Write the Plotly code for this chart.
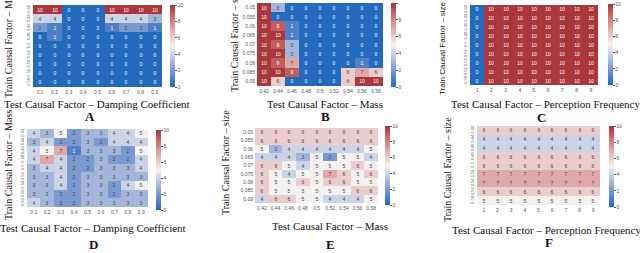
import plotly.graph_objects as go

damping = ["0.1", "0.2", "0.3", "0.4", "0.5", "0.6", "0.7", "0.8", "0.9"]
mass = ["0.42", "0.44", "0.46", "0.48", "0.5", "0.52", "0.54", "0.56", "0.58"]
size = ["0.05", "0.055", "0.06", "0.065", "0.07", "0.075", "0.08", "0.085", "0.09"]
freq = ["1", "2", "3", "4", "5", "6", "7", "8", "9"]

A_vals = [
    [10, 10, 0, 0, 0, 10, 10, 10, 10],
    [4, 4, 0, 0, 0, 4, 4, 4, 3],
    [2, 1, 0, 0, 0, 1, 2, 2, 1],
    [0, 1, 0, 0, 0, 0, 0, 0, 0],
    [0, 0, 0, 0, 0, 0, 0, 0, 0],
    [0, 0, 0, 0, 0, 0, 0, 0, 0],
    [0, 0, 0, 0, 0, 0, 0, 0, 0],
    [0, 0, 0, 0, 0, 0, 0, 0, 0],
    [0, 0, 0, 0, 0, 0, 0, 0, 0],
]
B_vals = [
    [10, 3, 0, 0, 0, 0, 0, 0, 0],
    [10, 0, 0, 0, 0, 0, 0, 0, 0],
    [10, 9, 1, 0, 0, 0, 0, 0, 0],
    [10, 10, 1, 0, 0, 0, 0, 0, 0],
    [10, 9, 3, 0, 0, 0, 0, 0, 0],
    [10, 10, 3, 0, 0, 0, 0, 0, 0],
    [10, 9, 7, 0, 0, 0, 0, 1, 0],
    [10, 10, 9, 0, 0, 0, 6, 7, 6],
    [10, 6, 0, 0, 0, 0, 6, 10, 10],
]
C_vals = [
    [0, 10, 10, 10, 10, 10, 10, 10, 10],
    [0, 10, 10, 10, 10, 10, 10, 10, 10],
    [0, 10, 10, 10, 10, 10, 10, 10, 10],
    [0, 10, 10, 10, 10, 10, 10, 10, 10],
    [0, 10, 10, 10, 10, 10, 10, 10, 10],
    [0, 10, 10, 10, 10, 10, 10, 10, 10],
    [0, 10, 10, 10, 10, 10, 10, 10, 10],
    [0, 10, 10, 10, 10, 10, 10, 10, 10],
    [0, 10, 10, 10, 10, 10, 10, 10, 10],
]
D_vals = [
    [4, 3, 5, 2, 3, 3, 4, 4, 5],
    [3, 4, 2, 2, 3, 2, 4, 4, 4],
    [4, 5, 7, 1, 3, 3, 3, 2, 5],
    [4, 7, 4, 2, 2, 3, 2, 2, 4],
    [3, 4, 4, 2, 2, 3, 3, 3, 4],
    [3, 3, 4, 2, 3, 3, 3, 3, 3],
    [3, 3, 4, 2, 3, 3, 2, 4, 5],
    [3, 3, 2, 2, 3, 3, 2, 3, 3],
    [4, 3, 2, 2, 3, 3, 3, 3, 3],
]
E_vals = [
    [6, 6, 6, 6, 6, 6, 6, 6, 6],
    [6, 6, 6, 6, 6, 6, 6, 6, 6],
    [5, 3, 4, 4, 4, 4, 4, 4, 5],
    [4, 4, 4, 3, 5, 2, 5, 5, 4],
    [6, 6, 5, 4, 5, 5, 5, 6, 5],
    [6, 5, 4, 5, 5, 7, 6, 5, 6],
    [6, 5, 5, 6, 5, 6, 6, 5, 5],
    [6, 5, 5, 5, 5, 5, 5, 6, 6],
    [4, 6, 6, 5, 5, 4, 4, 4, 5],
]
F_rows = [6, 4, 4, 6, 6, 7, 7, 6, 5]
F_vals = [[v] * len(freq) for v in F_rows]

vlag = [
    [0.0, "#2369bd"], [0.125, "#5a86c8"], [0.25, "#8fa6d5"], [0.375, "#c3cce5"],
    [0.5, "#f4f1f1"], [0.625, "#e9c4c4"], [0.75, "#da9697"], [0.875, "#c66667"],
    [1.0, "#a9373b"],
]

W, H = 640, 253
def px(x):
    return x / W
def py(y):
    return 1 - y / H

panels = [
    ("A", damping, mass, A_vals, (33, 162), (5, 87), 170, (5, 87), True),
    ("B", mass, size, B_vals, (257, 383), (3, 86), 391, (3, 87), False),
    ("C", freq, mass, C_vals, (470, 598), (5, 85), 608, (4, 85), True),
    ("D", damping, mass, D_vals, (27, 148), (129, 207), 156, (130, 210), True),
    ("E", mass, size, E_vals, (255, 378), (128, 203), 385, (126, 205), False),
    ("F", freq, mass, F_vals, (477, 600), (126, 205), 609, (126, 207), True),
]

fig = go.Figure()
layout = {}
for i, (name, xc, yc, z, xr, yr, cbx, cby, rot) in enumerate(panels):
    n = "" if i == 0 else str(i + 1)
    fig.add_trace(go.Heatmap(
        z=z, x=xc, y=yc, xaxis="x" + n, yaxis="y" + n,
        zmin=0, zmax=10, colorscale=vlag,
        texttemplate="%{z}", textfont=dict(size=5, family="Liberation Sans"),
        xgap=0, ygap=0,
        colorbar=dict(
            x=px(cbx), xanchor="left", y=py((cby[0] + cby[1]) / 2), yanchor="middle",
            len=cby[1] - cby[0], lenmode="pixels", thickness=5, xpad=0, ypad=0,
            outlinewidth=0, tickvals=[0, 2, 4, 6, 8, 10], ticks="outside",
            ticklen=2, tickwidth=0.5, tickcolor="#555",
            tickfont=dict(size=5, color="#555", family="Liberation Sans"),
        ),
    ))
    layout["xaxis" + n] = dict(
        domain=[px(xr[0]), px(xr[1])], anchor="y" + n, type="category",
        showgrid=False, zeroline=False, showline=False, ticks="",
        tickfont=dict(size=5, color="#555", family="Liberation Sans"),
        ticklabelstandoff=1, tickangle=0,
    )
    layout["yaxis" + n] = dict(
        domain=[py(yr[1]), py(yr[0])], anchor="x" + n, type="category",
        autorange="reversed", showgrid=False, zeroline=False, showline=False,
        ticks="", dtick=1,
        tickfont=dict(size=4 if rot else 5, color="#555", family="Liberation Sans"),
        tickangle=-90 if rot else 0, ticklabelstandoff=1,
    )

fig.update_layout(**layout)

serif = "Liberation Serif"
ann = []
def add(text, x, y, size, family=serif, angle=0, bold=False):
    ann.append(dict(
        text=("<b>%s</b>" % text) if bold else text, x=px(x), y=py(y),
        xref="paper", yref="paper", showarrow=False, textangle=angle,
        font=dict(size=size, family=family, color="#111"),
        xanchor="center", yanchor="middle",
    ))

xt = [
    ("Test Causal Factor \u2013 Damping Coefficient", 97, 104),
    ("Test Causal Factor \u2013 Mass", 325, 104),
    ("Test Causal Factor \u2013 Perception Frequency", 545, 104),
    ("Test Causal Factor \u2013 Damping Coefficient", 93, 228),
    ("Test Causal Factor \u2013 Mass", 330, 226),
    ("Test Causal Factor \u2013 Perception Frequency", 546, 230),
]
for t, x, y in xt:
    add(t, x, y, 11)

letters = [("A", 90, 116), ("B", 325, 116), ("C", 541, 117),
           ("D", 93, 244), ("E", 330, 244), ("F", 549, 242)]
for t, x, y in letters:
    add(t, x, y, 13, bold=True)

add("Train Causal Factor \u2013 Mass", 8, 43, 10, angle=-90)
add("Train Causal Factor \u2013 size", 235, 40, 10, angle=-90)
add("Train Causal Factor \u2013 size", 442, 48, 8, family="Liberation Sans", angle=-90)
add("Train Causal Factor \u2013 Mass", 8, 165, 10, angle=-90)
add("Train Causal Factor \u2013 size", 225, 163, 10, angle=-90)
add("Train Causal Factor \u2013 size", 447, 170, 10, angle=-90)

fig.update_layout(
    width=W, height=H, margin=dict(l=0, r=0, t=0, b=0),
    paper_bgcolor="white", plot_bgcolor="white",
    annotations=ann, showlegend=False,
)

fig.write_html("out.html", config={"displayModeBar": False})

# remove the default body margin so the figure sits at the window's corner
with open("out.html", "r", encoding="utf-8") as f:
    html = f.read()
html = html.replace("<head>", "<head><style>html,body{margin:0;padding:0;overflow:hidden;}</style>", 1)
with open("out.html", "w", encoding="utf-8") as f:
    f.write(html)
